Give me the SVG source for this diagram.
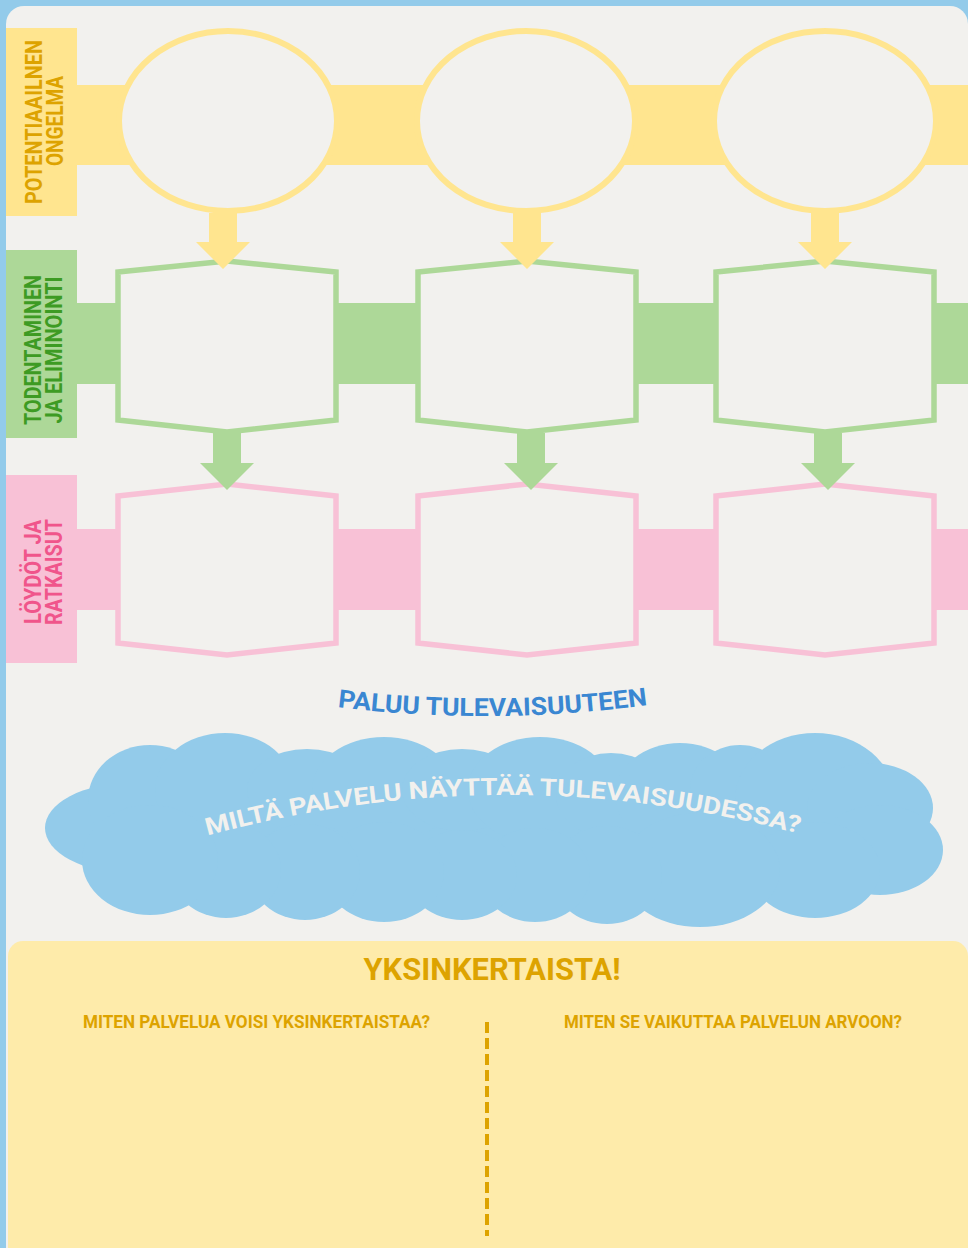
<svg xmlns="http://www.w3.org/2000/svg" width="968" height="1248" viewBox="0 0 968 1248">
<style>
.t{font-family:Roboto,"Liberation Sans",sans-serif;font-weight:700;text-anchor:middle}
.lbl{font-size:24px}
.ell{fill:#F2F1EE;stroke:#FFE58F;stroke-width:6}
.hg{fill:#F2F1EE;stroke:#ADD898;stroke-width:5.5}
.hp{fill:#F2F1EE;stroke:#F8C1D6;stroke-width:5.5}
.cl{fill:#93CBEA}
</style>
<defs>
<path id="p1" d="M337,707 Q492,726 648,705"/>
<path id="p2" d="M206,836 Q503,755 800,834"/>
</defs>
<rect x="0" y="0" width="968" height="1248" fill="#93CBEA"/>
<rect x="6" y="6" width="962" height="1270" rx="18" fill="#F2F1EE"/>

<g id="bands">
<rect x="77" y="85" width="891" height="80" fill="#FFE58F"/>
<rect x="77" y="303" width="891" height="81" fill="#ADD898"/>
<rect x="77" y="529" width="891" height="81" fill="#F8C1D6"/>
</g>

<g id="label-potentiaalinen">
<rect x="6" y="28" width="71" height="188" fill="#FFE58F"/>
<text class="t lbl" fill="#DDA300" transform="translate(42,122) rotate(-90)" textLength="164" lengthAdjust="spacingAndGlyphs">POTENTIAAILNEN</text>
<text class="t lbl" fill="#DDA300" transform="translate(63,121) rotate(-90)" textLength="90" lengthAdjust="spacingAndGlyphs">ONGELMA</text>
</g>
<g id="label-todentaminen">
<rect x="6" y="250" width="71" height="188" fill="#ADD898"/>
<text class="t lbl" fill="#3D9B23" transform="translate(41,350) rotate(-90)" textLength="150" lengthAdjust="spacingAndGlyphs">TODENTAMINEN</text>
<text class="t lbl" fill="#3D9B23" transform="translate(62,350) rotate(-90)" textLength="147" lengthAdjust="spacingAndGlyphs">JA ELIMINOINTI</text>
</g>
<g id="label-loydot">
<rect x="6" y="475" width="71" height="188" fill="#F8C1D6"/>
<text class="t lbl" fill="#F0558B" transform="translate(41,572) rotate(-90)" textLength="104" lengthAdjust="spacingAndGlyphs">LÖYDÖT JA</text>
<text class="t lbl" fill="#F0558B" transform="translate(62,572) rotate(-90)" textLength="106" lengthAdjust="spacingAndGlyphs">RATKAISUT</text>
</g>

<g id="problem-1"><ellipse class="ell" cx="228" cy="121" rx="109" ry="90"/></g>
<g id="problem-2"><ellipse class="ell" cx="526" cy="121" rx="109" ry="90"/></g>
<g id="problem-3"><ellipse class="ell" cx="825" cy="121" rx="111" ry="90"/></g>

<g id="verify-1"><polygon class="hg" points="118,272 227,261 336,272 336,420 227,432 118,420"/></g>
<g id="verify-2"><polygon class="hg" points="418,272 527,261 636,272 636,420 527,432 418,420"/></g>
<g id="verify-3"><polygon class="hg" points="716,272 825,261 934,272 934,420 825,432 716,420"/></g>

<g id="finding-1"><polygon class="hp" points="118,496 227,484 336,496 336,643 227,655 118,643"/></g>
<g id="finding-2"><polygon class="hp" points="418,496 527,484 636,496 636,643 527,655 418,643"/></g>
<g id="finding-3"><polygon class="hp" points="716,496 825,484 934,496 934,643 825,655 716,643"/></g>

<g id="connectors">
<polygon fill="#FFE58F" points="209,213 237,213 237,242 250,242 223,269 196,242 209,242"/>
<polygon fill="#FFE58F" points="513,213 541,213 541,242 554,242 527,269 500,242 513,242"/>
<polygon fill="#FFE58F" points="811,213 839,213 839,242 852,242 825,269 798,242 811,242"/>
<polygon fill="#ADD898" points="213,433 241,433 241,463 254,463 227,490 200,463 213,463"/>
<polygon fill="#ADD898" points="517,433 545,433 545,463 558,463 531,490 504,463 517,463"/>
<polygon fill="#ADD898" points="814,433 842,433 842,463 855,463 828,490 801,463 814,463"/>
</g>

<g id="title-paluu">
<text class="t" font-size="25" fill="#3A87D2"><textPath href="#p1" startOffset="50%" textLength="311" lengthAdjust="spacingAndGlyphs">PALUU TULEVAISUUTEEN</textPath></text>
</g>

<g id="cloud">
<rect class="cl" x="120" y="780" width="740" height="118"/>
<ellipse class="cl" cx="130" cy="828" rx="85" ry="45"/>
<ellipse class="cl" cx="150" cy="800" rx="62" ry="55"/>
<ellipse class="cl" cx="225" cy="790" rx="70" ry="57"/>
<ellipse class="cl" cx="307" cy="790" rx="60" ry="41"/>
<ellipse class="cl" cx="384" cy="790" rx="72" ry="53"/>
<ellipse class="cl" cx="462" cy="790" rx="60" ry="41"/>
<ellipse class="cl" cx="540" cy="790" rx="72" ry="53"/>
<ellipse class="cl" cx="611" cy="795" rx="55" ry="42"/>
<ellipse class="cl" cx="680" cy="795" rx="65" ry="52"/>
<ellipse class="cl" cx="740" cy="790" rx="50" ry="45"/>
<ellipse class="cl" cx="815" cy="800" rx="80" ry="67"/>
<ellipse class="cl" cx="870" cy="808" rx="63" ry="45"/>
<ellipse class="cl" cx="880" cy="850" rx="63" ry="45"/>
<ellipse class="cl" cx="815" cy="870" rx="65" ry="48"/>
<ellipse class="cl" cx="700" cy="870" rx="80" ry="57"/>
<ellipse class="cl" cx="607" cy="875" rx="55" ry="49"/>
<ellipse class="cl" cx="535" cy="875" rx="55" ry="47"/>
<ellipse class="cl" cx="462" cy="875" rx="55" ry="45"/>
<ellipse class="cl" cx="384" cy="872" rx="60" ry="50"/>
<ellipse class="cl" cx="305" cy="872" rx="55" ry="48"/>
<ellipse class="cl" cx="226" cy="870" rx="55" ry="48"/>
<ellipse class="cl" cx="150" cy="860" rx="68" ry="55"/>
<text class="t" font-size="24" fill="#F2F1EE"><textPath href="#p2" startOffset="50%" textLength="598" lengthAdjust="spacingAndGlyphs">MILTÄ PALVELU NÄYTTÄÄ TULEVAISUUDESSA?</textPath></text>
</g>

<g id="yksinkertaista">
<rect x="8" y="941" width="960" height="330" rx="15" fill="#FEEBAA"/>
<text class="t" x="492" y="980" font-size="32" fill="#DDA300" textLength="257" lengthAdjust="spacingAndGlyphs">YKSINKERTAISTA!</text>
<text class="t" x="256.5" y="1028" font-size="18" fill="#DDA300" textLength="347" lengthAdjust="spacingAndGlyphs">MITEN PALVELUA VOISI YKSINKERTAISTAA?</text>
<text class="t" x="733" y="1028" font-size="18" fill="#DDA300" textLength="338" lengthAdjust="spacingAndGlyphs">MITEN SE VAIKUTTAA PALVELUN ARVOON?</text>
<line x1="487" y1="1022" x2="487" y2="1236" stroke="#DDA300" stroke-width="4" stroke-dasharray="11 5"/>
</g>
</svg>
